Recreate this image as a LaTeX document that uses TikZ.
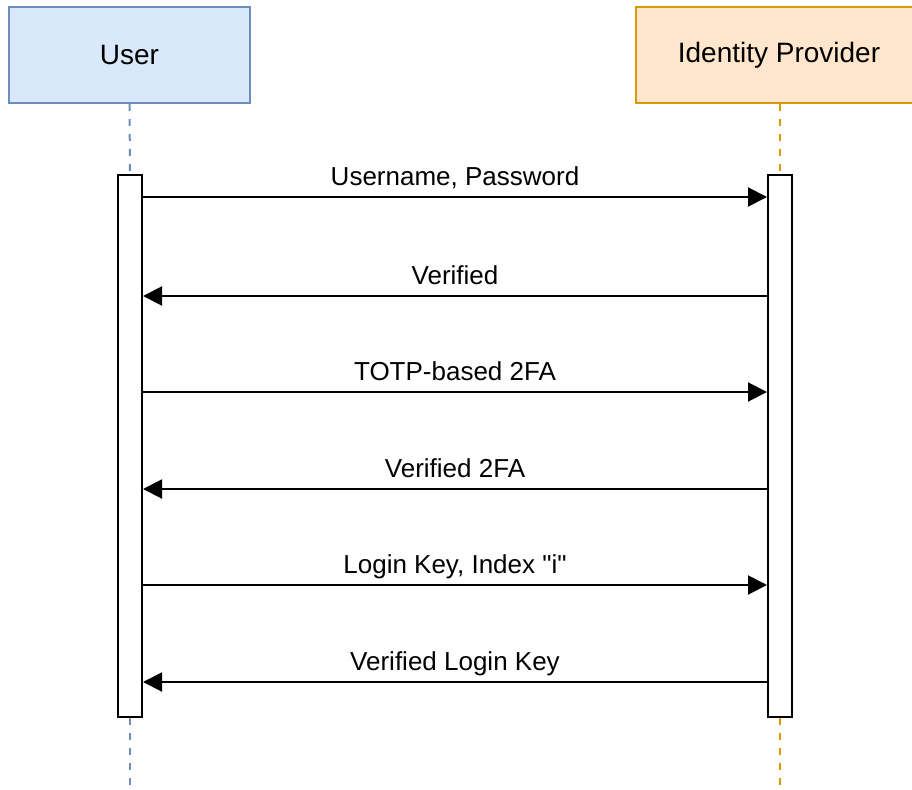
\documentclass[tikz,border=0pt]{standalone}
\usepackage{fontspec}
\setmainfont{Liberation Sans}[Ligatures=TeXOff]
\usetikzlibrary{arrows.meta}
\definecolor{userfill}{HTML}{DAE8FC}
\definecolor{userline}{HTML}{6C8EBF}
\definecolor{idpfill}{HTML}{FFE6CC}
\definecolor{idpline}{HTML}{D79B00}
\tikzset{
  header/.style={draw, line width=2pt, minimum width=241pt, minimum height=96pt, inner sep=0pt,
    font=\fontsize{28}{32}\selectfont},
  activation/.style={draw=black, fill=white, line width=2pt, minimum width=24pt, minimum height=542pt, inner sep=0pt},
  lifeline/.style={line width=2pt, dash pattern=on 7pt off 8pt},
  msg/.style={line width=2pt, -{Triangle[length=19pt,width=19pt]}},
  msglabel/.style={midway, anchor=base, yshift=12pt, font=\fontsize{26}{30}\selectfont, inner sep=0pt}
}
\begin{document}
\begin{tikzpicture}[x=1pt,y=-1pt]
\useasboundingbox (0,0) rectangle (912,789);
\clip (0,0) rectangle (912,789);
\node[header, fill=userfill, draw=userline] (user) at (129.5,55) {User};
\node[header, fill=idpfill, draw=idpline, minimum width=288pt] (idp) at (780,55) {};
\node[font=\fontsize{28}{32}\selectfont, inner sep=0pt] (idplabel) at (779,55) {Identity Provider};
\node[activation] (ua) at (130,446) {};
\node[activation] (ia) at (780,446) {};
\coordinate (uend) at (130,789);
\coordinate (iend) at (780,789);
\draw[lifeline, userline] (user.south) -- (ua.north);
\draw[lifeline, userline] (ua.south) -- (uend);
\draw[lifeline, idpline] (idp.south) -- (ia.north);
\draw[lifeline, idpline] (ia.south) -- (iend);
\coordinate (m1) at (0,197);
\coordinate (m2) at (0,296);
\coordinate (m3) at (0,392);
\coordinate (m4) at (0,489);
\coordinate (m5) at (0,585);
\coordinate (m6) at (0,682);
\draw[msg] (ua.east |- m1) -- node[msglabel] {Username, Password} (ia.west |- m1);
\draw[msg] (ia.west |- m2) -- node[msglabel] {Verified} (ua.east |- m2);
\draw[msg] (ua.east |- m3) -- node[msglabel] {TOTP-based 2FA} (ia.west |- m3);
\draw[msg] (ia.west |- m4) -- node[msglabel] {Verified 2FA} (ua.east |- m4);
\draw[msg] (ua.east |- m5) -- node[msglabel] {Login Key, Index "i"} (ia.west |- m5);
\draw[msg] (ia.west |- m6) -- node[msglabel] {Verified Login Key} (ua.east |- m6);
\end{tikzpicture}
\end{document}
